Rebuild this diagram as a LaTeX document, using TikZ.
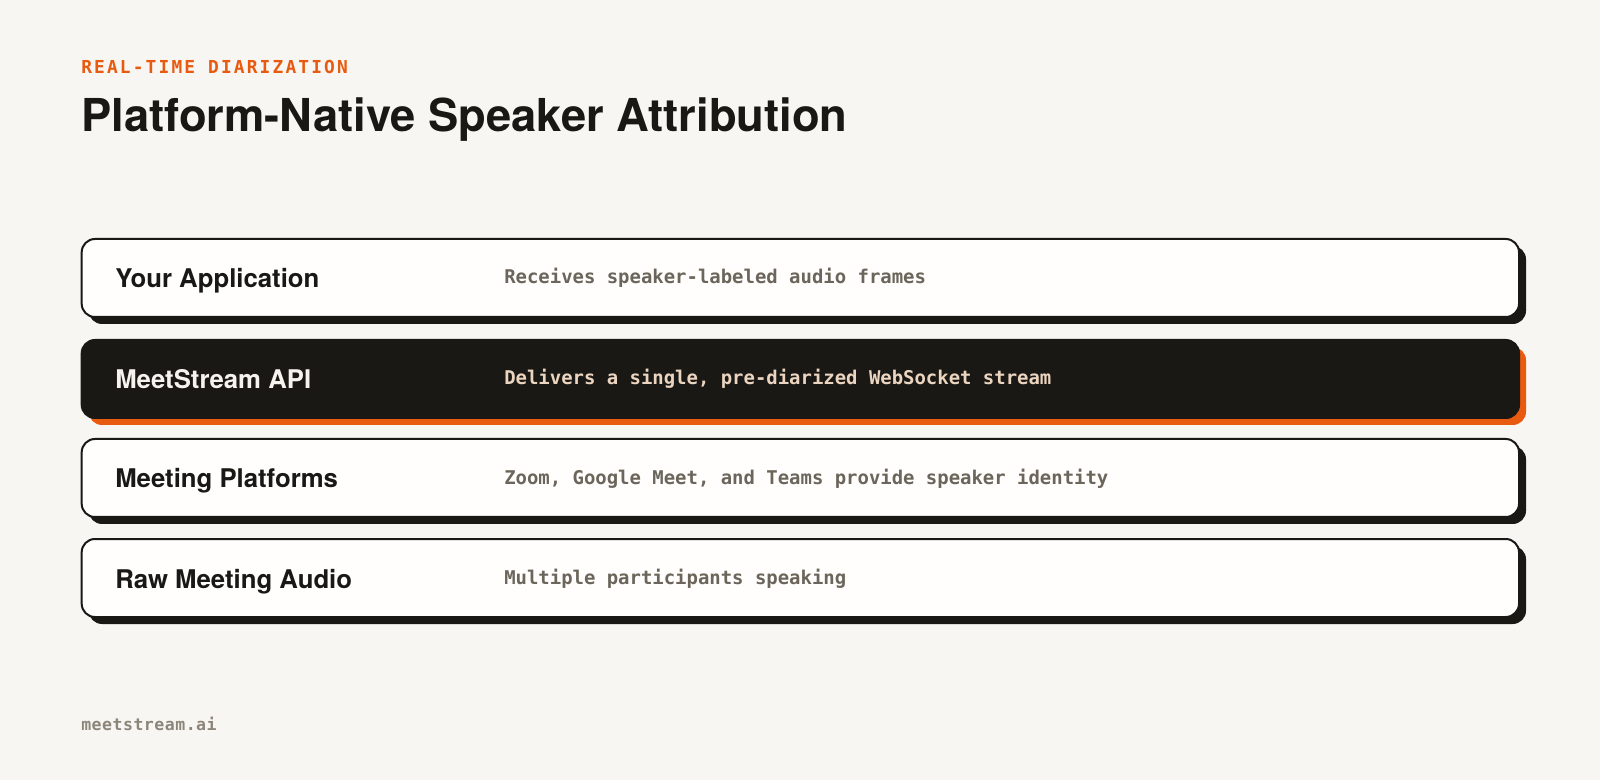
\documentclass[tikz,border=0pt]{standalone}
\usepackage{fontspec}
\setmainfont{TeX Gyre Heros}
\setmonofont{DejaVu Sans Mono}
\usetikzlibrary{shadows}

\definecolor{paper}{HTML}{F7F6F2}
\definecolor{ink}{HTML}{1A1814}
\definecolor{cardwhite}{HTML}{FFFEFC}
\definecolor{flame}{HTML}{E85A0F}
\definecolor{muted}{HTML}{6B655B}
\definecolor{peach}{HTML}{EBD5C0}
\definecolor{chalk}{HTML}{F6F3EE}
\definecolor{footgrey}{HTML}{8C857A}

\tikzset{
  cardbase/.style={draw=ink, line width=1.5pt, rounded corners=10pt,
    minimum width=1078pt, minimum height=58.5pt, inner sep=0pt},
  card/.style={cardbase, fill=cardwhite,
    drop shadow={shadow xshift=5.25pt, shadow yshift=-5.25pt, fill=ink, opacity=1}},
  darkcard/.style={cardbase, fill=ink,
    drop shadow={shadow xshift=5.25pt, shadow yshift=-5.25pt, fill=flame, opacity=1}},
  layername/.style={anchor=base west, inner sep=0pt, text=ink,
    font=\fontsize{19.3pt}{22pt}\selectfont\bfseries},
  layernote/.style={anchor=base west, inner sep=0pt, text=muted,
    font=\fontsize{14.2pt}{17pt}\selectfont\ttfamily\bfseries}
}

\begin{document}
\begin{tikzpicture}[x=0.75pt, y=-0.75pt]
  \useasboundingbox[fill=paper] (0,0) rectangle (1600,780);

  % heading
  \node[anchor=base west, inner sep=0pt, text=flame,
    font=\fontsize{13.4pt}{16pt}\selectfont\ttfamily\bfseries\addfontfeature{LetterSpace=12}]
    (kicker) at (81,73.3) {REAL-TIME DIARIZATION};
  \node[anchor=base west, inner sep=0pt, text=ink,
    font=\fontsize{34pt}{40pt}\selectfont\bfseries]
    (title) at (81,132) {Platform-Native Speaker Attribution};

  % layers, top to bottom
  \node[card] (app) at (800.35,278) {};
  \node[darkcard] (api) at (800.35,379) {};
  \node[card] (platforms) at (800.35,478) {};
  \node[card] (audio) at (800.35,578) {};

  \node[layername] (appname) at (115,288) {Your Application};
  \node[layername, text=chalk] (apiname) at (115,389) {MeetStream API};
  \node[layername] (platformsname) at (115,488) {Meeting Platforms};
  \node[layername] (audioname) at (115,588) {Raw Meeting Audio};

  \node[layernote] (appnote) at (504,284) {Receives speaker-labeled audio frames};
  \node[layernote, text=peach] (apinote) at (504,385) {Delivers a single, pre-diarized WebSocket stream};
  \node[layernote] (platformsnote) at (504,484) {Zoom, Google Meet, and Teams provide speaker identity};
  \node[layernote] (audionote) at (504,584) {Multiple participants speaking};

  % footer
  \node[anchor=base west, inner sep=0pt, text=footgrey,
    font=\fontsize{12.4pt}{15pt}\selectfont\ttfamily\bfseries\addfontfeature{LetterSpace=3}]
    (brand) at (81,730.7) {meetstream.ai};
\end{tikzpicture}
\end{document}
